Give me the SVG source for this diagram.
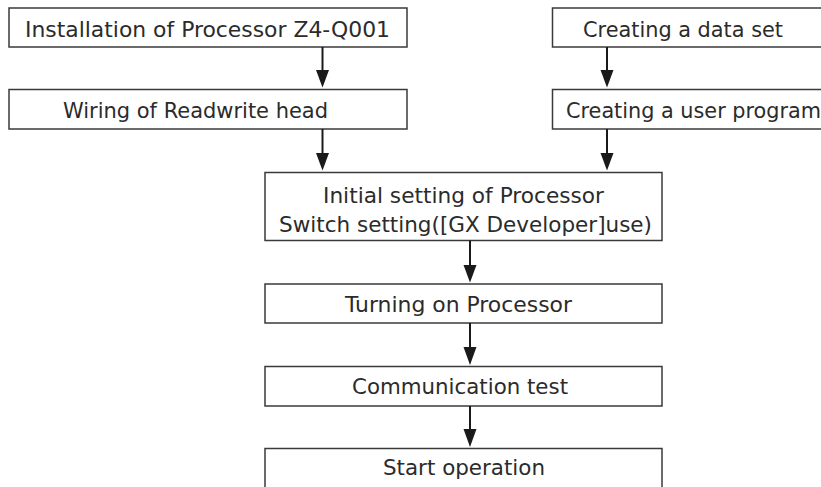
<svg xmlns="http://www.w3.org/2000/svg" width="821" height="487" viewBox="0 0 821 487">
  <defs>
    <style>
      .box { fill: #ffffff; stroke: #3a3a3a; stroke-width: 1.5; }
      .lbl { font-family: "DejaVu Sans", "Noto Sans", sans-serif; font-size: 20.5px; fill: #2b2b2b; }
      .wire { stroke: #1a1a1a; stroke-width: 2; fill: none; }
      .head { fill: #1a1a1a; }
    </style>
  </defs>
  <rect width="821" height="487" fill="#ffffff"/>

  <g id="install">
    <rect class="box" x="9" y="8" width="398" height="39"/>
    <text class="lbl" x="25" y="37" textLength="365" lengthAdjust="spacingAndGlyphs">Installation of Processor Z4-Q001</text>
  </g>
  <g id="wiring">
    <rect class="box" x="9" y="89.5" width="398" height="39.5"/>
    <text class="lbl" x="63" y="118" textLength="265" lengthAdjust="spacingAndGlyphs">Wiring of Readwrite head</text>
  </g>
  <g id="dataset">
    <rect class="box" x="552.5" y="8" width="280" height="39"/>
    <text class="lbl" x="583" y="37" textLength="200" lengthAdjust="spacingAndGlyphs">Creating a data set</text>
  </g>
  <g id="userprog">
    <rect class="box" x="552.5" y="89.5" width="280" height="39.5"/>
    <text class="lbl" x="566" y="118" textLength="255" lengthAdjust="spacingAndGlyphs">Creating a user program</text>
  </g>
  <g id="initial">
    <rect class="box" x="265" y="172.5" width="397" height="68"/>
    <text class="lbl" x="323" y="203" textLength="281" lengthAdjust="spacingAndGlyphs">Initial setting of Processor</text>
    <text class="lbl" x="279" y="232" textLength="373" lengthAdjust="spacingAndGlyphs">Switch setting([GX Developer]use)</text>
  </g>
  <g id="poweron">
    <rect class="box" x="265" y="284" width="397" height="39"/>
    <text class="lbl" x="345" y="312" textLength="227" lengthAdjust="spacingAndGlyphs">Turning on Processor</text>
  </g>
  <g id="commtest">
    <rect class="box" x="265" y="366.5" width="397" height="39.5"/>
    <text class="lbl" x="352" y="393.5" textLength="216" lengthAdjust="spacingAndGlyphs">Communication test</text>
  </g>
  <g id="start">
    <rect class="box" x="265" y="448.5" width="397" height="45"/>
    <text class="lbl" x="383" y="474.5" textLength="162" lengthAdjust="spacingAndGlyphs">Start operation</text>
  </g>

  <g id="connectors">
    <line class="wire" x1="322.5" y1="47" x2="322.5" y2="72"/>
    <polygon class="head" points="316,70 329,70 322.5,87.5"/>
    <line class="wire" x1="607" y1="47" x2="607" y2="72"/>
    <polygon class="head" points="600.5,70 613.5,70 607,87.5"/>
    <line class="wire" x1="322.5" y1="129" x2="322.5" y2="155"/>
    <polygon class="head" points="316,153 329,153 322.5,170.5"/>
    <line class="wire" x1="607" y1="129" x2="607" y2="155"/>
    <polygon class="head" points="600.5,153 613.5,153 607,170.5"/>
    <line class="wire" x1="470" y1="240.5" x2="470" y2="267"/>
    <polygon class="head" points="463.5,265 476.5,265 470,282.5"/>
    <line class="wire" x1="470" y1="323" x2="470" y2="349"/>
    <polygon class="head" points="463.5,347 476.5,347 470,365"/>
    <line class="wire" x1="470" y1="406" x2="470" y2="431"/>
    <polygon class="head" points="463.5,429 476.5,429 470,447"/>
  </g>
</svg>
